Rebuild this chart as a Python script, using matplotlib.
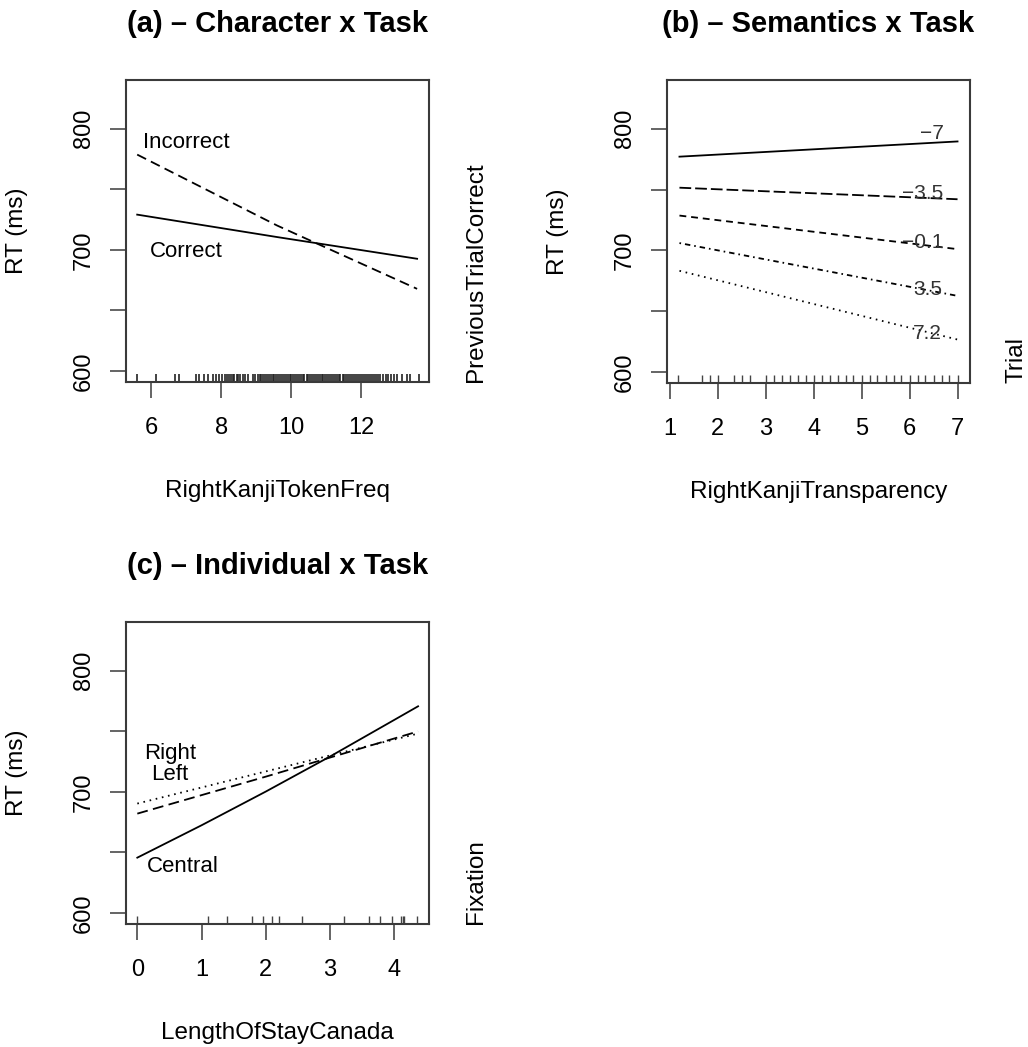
import matplotlib
matplotlib.use("Agg")
import matplotlib.pyplot as plt
import numpy as np

plt.rcParams["font.family"] = ["Liberation Sans", "DejaVu Sans"]

# ---- panel (a): Character x Task ----
freq_x = [5.6, 9.6, 13.6]
freq_correct = [729.0, 710.5, 692.6]
freq_incorrect = [778.5, 720.0, 667.8]
freq_rug = [5.6, 6.15, 6.67, 6.8, 7.27, 7.38, 7.5, 7.63, 7.77, 7.86, 7.95, 8.02,
            8.1, 8.16, 8.22, 8.27, 8.33, 8.38, 8.44, 8.49, 8.55, 8.61, 8.68, 8.76,
            8.9, 8.98, 9.04, 9.1, 9.15, 9.2, 9.26, 9.31, 9.36, 9.42, 9.47, 9.52,
            9.58, 9.63, 9.69, 9.74, 9.8, 9.85, 9.9, 9.96, 10.01, 10.06, 10.12,
            10.17, 10.22, 10.28, 10.33, 10.38, 10.44, 10.49, 10.55, 10.6, 10.65,
            10.71, 10.76, 10.82, 10.87, 10.92, 10.98, 11.03, 11.08, 11.14, 11.19,
            11.25, 11.3, 11.36, 11.41, 11.47, 11.52, 11.58, 11.63, 11.69, 11.74,
            11.8, 11.85, 11.91, 11.96, 12.02, 12.07, 12.13, 12.19, 12.24, 12.3,
            12.36, 12.42, 12.48, 12.55, 12.62, 12.7, 12.78, 12.86, 12.95, 13.03,
            13.17, 13.31, 13.4, 13.65]

# ---- panel (b): Semantics x Task ----
transp_x = [1.2, 7.0]
trial_levels = ["\u22127", "\u22123.5", "\u22120.1", "3.5", "7.2"]
trial_curves = [
    [777.0, 789.5],
    [751.5, 742.0],
    [728.6, 701.0],
    [706.0, 662.6],
    [683.2, 626.7],
]
transp_rug = [1.17, 1.67, 1.83, 2.0, 2.33, 2.5, 2.67, 3.0, 3.17, 3.33, 3.5, 3.67,
              3.83, 4.0, 4.17, 4.33, 4.5, 4.67, 4.83, 5.0, 5.17, 5.33, 5.5, 5.67,
              5.83, 6.0, 6.17, 6.33, 6.5, 6.67, 6.83, 7.0]

# ---- panel (c): Individual x Task ----
stay_central_x = [0, 1, 2, 3, 4, 4.37]
stay_central = [645.7, 672.4, 700.2, 729.1, 759.3, 770.5]
stay_x = [0, 2, 4.37]
stay_left = [682.0, 712.5, 749.8]
stay_right = [690.3, 716.8, 748.0]
stay_rug = [0.0, 1.10, 1.39, 1.79, 1.95, 2.09, 2.20, 2.57, 3.22, 3.61, 3.77,
            3.96, 4.10, 4.13, 4.15, 4.35]

W, H = 1028, 1047
fig = plt.figure(figsize=(W / 100, H / 100), dpi=100)

BOX = "#3a3a3a"
LW = 1.3


def make_axes(x0, y0, x1, y1):
    # pixel box -> figure fraction
    return fig.add_axes([x0 / W, 1 - y1 / H, (x1 - x0) / W, (y1 - y0) / H])


def style_axes(ax, title, xlabel, side_label, xlim, xticks):
    ax.set_xlim(*xlim)
    ax.set_ylim(591, 840)
    ax.set_xticks(xticks)
    ax.set_yticks([600, 650, 700, 750, 800])
    ax.set_yticklabels(["600", "", "700", "", "800"])
    for s in ax.spines.values():
        s.set_color(BOX)
        s.set_linewidth(1.5)
    ax.tick_params(direction="out", length=11.5, width=1.1, color=BOX,
                   labelsize=17, pad=11)
    ax.tick_params(axis="x", pad=14)
    for lab in ax.get_yticklabels():
        lab.set_rotation(90)
        lab.set_va("center")
    ax.annotate(title, xy=(0.5, 1), xycoords="axes fraction",
                xytext=(0, 34.5), textcoords="offset points",
                ha="center", va="baseline", fontsize=21, fontweight="bold")
    ax.annotate(xlabel, xy=(0.5, 0), xycoords="axes fraction",
                xytext=(0, -83), textcoords="offset points",
                ha="center", va="baseline", fontsize=17.5)
    ax.annotate("RT (ms)", xy=(0, 0.5), xycoords="axes fraction",
                xytext=(-74, 0), textcoords="offset points", rotation=90,
                rotation_mode="anchor", ha="center", va="baseline",
                fontsize=17.5)
    ax.annotate(side_label, xy=(1, 0), xycoords="axes fraction",
                xytext=(38, 0), textcoords="offset points", rotation=90,
                rotation_mode="anchor", ha="left", va="baseline",
                fontsize=17.5)


def rug(ax, values, color="#444444", lw=1.0):
    ax.vlines(values, 0, 0.028, transform=ax.get_xaxis_transform(),
              color=color, linewidth=lw)


# (a)
ax_a = make_axes(126, 80, 429, 382)
ax_a.plot(freq_x, freq_correct, color="black", lw=LW)
ax_a.plot(freq_x, freq_incorrect, color="black", lw=LW,
          linestyle=(0, (5.5, 3)))
ax_a.text(5.78, 788.4, "Incorrect", fontsize=16, va="center", ha="left")
ax_a.text(5.96, 698.3, "Correct", fontsize=16, va="center", ha="left")
rug(ax_a, freq_rug, color="#222222", lw=1.2)
style_axes(ax_a, "(a) \u2013 Character x Task", "RightKanjiTokenFreq",
           "PreviousTrialCorrect", (5.28, 13.94), [6, 8, 10, 12])

# (b)
ax_b = make_axes(667, 80, 970, 383)
b_styles = ["-", (0, (6.5, 2.2)), (0, (3.8, 2.7)), (0, (0.9, 2.2, 3, 2.2)),
            (0, (0.9, 2.6))]
label_pos = [(6.46, 795.9), (6.28, 747.0), (6.28, 706.6), (6.38, 667.8),
             (6.36, 631.4)]
for curve, ls, lev, (lx, ly) in zip(trial_curves, b_styles, trial_levels,
                                    label_pos):
    ax_b.plot(transp_x, curve, color="black", lw=LW, linestyle=ls)
    ax_b.text(lx, ly, lev, fontsize=15, ha="center", va="center",
              color="#333333")
rug(ax_b, transp_rug)
style_axes(ax_b, "(b) \u2013 Semantics x Task", "RightKanjiTransparency",
           "Trial", (0.94, 7.26), [1, 2, 3, 4, 5, 6, 7])

# (c)
ax_c = make_axes(126, 622, 429, 924)
ax_c.plot(stay_central_x, stay_central, color="black", lw=LW)
ax_c.plot(stay_x, stay_left, color="black", lw=LW, linestyle=(0, (6, 3)))
ax_c.plot(stay_x, stay_right, color="black", lw=LW, linestyle=(0, (0.9, 2.6)))
ax_c.text(0.10, 731.4, "Right", fontsize=16, va="center", ha="left")
ax_c.text(0.21, 714.0, "Left", fontsize=16, va="center", ha="left")
ax_c.text(0.15, 638.8, "Central", fontsize=16, va="center", ha="left")
rug(ax_c, stay_rug)
style_axes(ax_c, "(c) \u2013 Individual x Task", "LengthOfStayCanada",
           "Fixation", (-0.176, 4.54), [0, 1, 2, 3, 4])

fig.savefig("out.png", dpi=100)
